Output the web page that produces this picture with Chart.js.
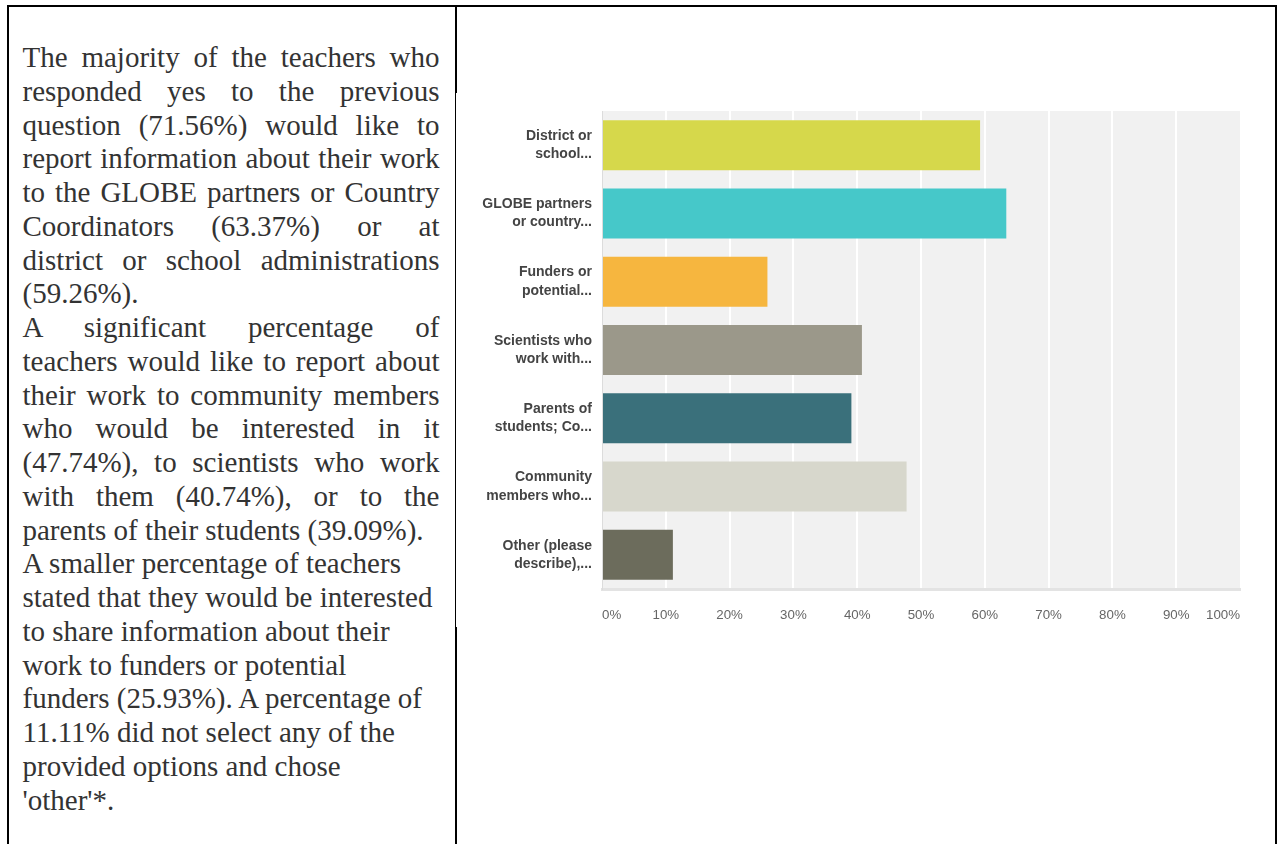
<!DOCTYPE html>
<html>
<head>
<meta charset="utf-8">
<script src="https://cdn.jsdelivr.net/npm/chart.js@4"></script>
<style>
  html, body { margin: 0; padding: 0; background: #fff; }
  #page { position: relative; width: 1277px; height: 844px; overflow: hidden; background: #fff; }
  .rule { position: absolute; background: #000; }
  #text {
    position: absolute; left: 22.5px; top: 41px; width: 417px;
    font-family: "Liberation Serif", "Times New Roman", serif;
    font-size: 29px; line-height: 33.75px; color: #333;
  }
  #text div { white-space: nowrap; }
  #text div.j { text-align: justify; text-align-last: justify; white-space: normal; }
  #chartBox { position: absolute; left: 470px; top: 100px; width: 790px; height: 540px; }
</style>
</head>
<body>
<div id="page">
  <!-- table frame -->
  <div class="rule" style="left:7px; top:5px; width:1270px; height:2px;"></div>
  <div class="rule" style="left:7px; top:5px; width:2px; height:839px;"></div>
  <div class="rule" style="left:1275px; top:5px; width:2px; height:839px;"></div>
  <div class="rule" style="left:455px; top:5px; width:2px; height:88px;"></div>
  <div class="rule" style="left:455px; top:93px; width:1px; height:534px;"></div>
  <div class="rule" style="left:455px; top:627px; width:2px; height:217px;"></div>

  <div id="text">
    <div class="j">The majority of the teachers who</div>
    <div class="j">responded yes to the previous</div>
    <div class="j">question (71.56%) would like to</div>
    <div class="j">report information about their work</div>
    <div class="j">to the GLOBE partners or Country</div>
    <div class="j">Coordinators (63.37%) or at</div>
    <div class="j">district or school administrations</div>
    <div>(59.26%).</div>
    <div class="j">A significant percentage of</div>
    <div class="j">teachers would like to report about</div>
    <div class="j">their work to community members</div>
    <div class="j">who would be interested in it</div>
    <div class="j">(47.74%), to scientists who work</div>
    <div class="j">with them (40.74%), or to the</div>
    <div>parents of their students (39.09%).</div>
    <div>A smaller percentage of teachers</div>
    <div>stated that they would be interested</div>
    <div>to share information about their</div>
    <div>work to funders or potential</div>
    <div>funders (25.93%). A percentage of</div>
    <div>11.11% did not select any of the</div>
    <div>provided options and chose</div>
    <div>'other'*.</div>
  </div>

  <div id="chartBox"><canvas id="chart"></canvas></div>
</div>

<script>
// Answer options (truncated as shown on the axis)
const categories = [
  ["District or", "school..."],
  ["GLOBE partners", "or country..."],
  ["Funders or", "potential..."],
  ["Scientists who", "work with..."],
  ["Parents of", "students; Co..."],
  ["Community", "members who..."],
  ["Other (please", "describe),..."]
];

// Share of respondents choosing each option (%)
const responsePercent = [59.26, 63.37, 25.93, 40.74, 39.09, 47.74, 11.11];

const barColors = ["#d6d84b", "#46c8c9", "#f6b63f", "#9b988a", "#3a707b", "#d7d7cc", "#6c6c5c"];

const tickValues = [0, 10, 20, 30, 40, 50, 60, 70, 80, 90, 100];

// Light grey panel behind the bars
const panelBackground = {
  id: 'panelBackground',
  beforeDraw(chart) {
    const { ctx, chartArea: a } = chart;
    ctx.save();
    ctx.fillStyle = '#f1f1f1';
    ctx.fillRect(a.left, a.top, a.right - a.left, a.bottom - a.top);
    ctx.restore();
  }
};

new Chart(document.getElementById('chart'), {
  type: 'bar',
  data: {
    labels: categories,
    datasets: [{
      data: responsePercent,
      backgroundColor: barColors,
      borderWidth: 0,
      barPercentage: 0.732,
      categoryPercentage: 1
    }]
  },
  options: {
    indexAxis: 'y',
    responsive: true,
    maintainAspectRatio: false,
    animation: false,
    layout: { padding: { top: 11, right: 20, left: 0, bottom: 0 } },
    plugins: { legend: { display: false }, tooltip: { enabled: false } },
    scales: {
      x: {
        min: 0,
        max: 100,
        afterBuildTicks(scale) { scale.ticks = tickValues.map(v => ({ value: v })); },
        afterFit(scale) { scale.height = 51; scale.paddingLeft = 0; scale.paddingRight = 0; },
        grid: {
          drawTicks: false,
          lineWidth: 2,
          color: ctx => (ctx.index === 0 || ctx.index === tickValues.length - 1) ? 'rgba(0,0,0,0)' : '#ffffff'
        },
        border: { display: true, color: '#e3e3e3', width: 3 },
        ticks: {
          align: 'inner',
          padding: 18,
          color: '#666',
          font: { family: 'Liberation Sans, Arial, sans-serif', size: 13.3 },
          callback: v => v + '%'
        }
      },
      y: {
        afterFit(scale) { scale.width = 132; scale.paddingTop = 0; scale.paddingBottom = 0; },
        grid: { display: false, drawTicks: false },
        border: { display: true, color: '#dcdcdc', width: 1 },
        ticks: {
          padding: 10,
          color: '#444',
          font: { family: 'Liberation Sans, Arial, sans-serif', size: 14, weight: 'bold', lineHeight: 1.3 }
        }
      }
    }
  },
  plugins: [panelBackground]
});
</script>
</body>
</html>
